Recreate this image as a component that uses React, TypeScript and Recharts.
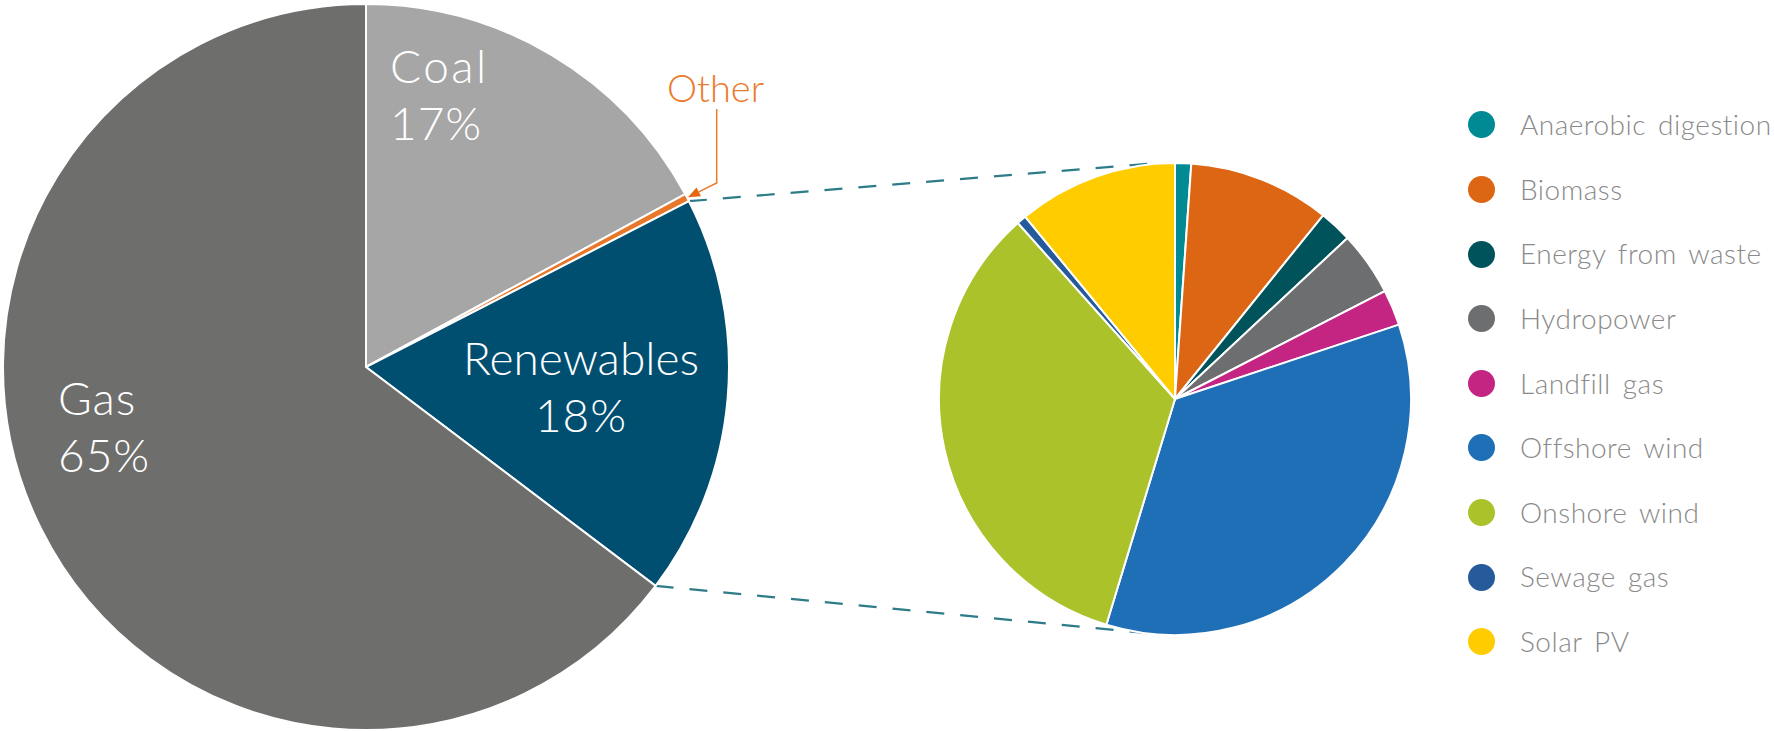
import React from 'react';
import { PieChart, Pie, Cell, Legend, Customized } from 'recharts';

// ---- Data ----
const mixNames = ['Coal', 'Other', 'Renewables', 'Gas'];
const mixValues = [17.1, 0.35, 17.85, 64.7];
const mixLabels = ['17%', '', '18%', '65%'];
const mixColors = ['#a6a6a6', '#e8772a', '#004f71', '#6e6e6c'];

const renewNames = [
  'Anaerobic digestion',
  'Biomass',
  'Energy from waste',
  'Hydropower',
  'Landfill gas',
  'Offshore wind',
  'Onshore wind',
  'Sewage gas',
  'Solar PV',
];
const renewValues = [1.1, 9.7, 2.25, 4.4, 2.45, 34.8, 33.7, 0.65, 10.95];
const renewColors = [
  '#008b94',
  '#dd6614',
  '#00535a',
  '#6d6e70',
  '#c42482',
  '#1f6fb7',
  '#abc22b',
  '#255b9b',
  '#ffcc00',
];

const mixData = mixNames.map((name, i) => ({ name, value: mixValues[i] }));
const renewData = renewNames.map((name, i) => ({ name, value: renewValues[i] }));

// ---- Layout ----
const W = 1774;
const H = 731;
const BIG = { cx: 366, cy: 367, r: 363 };
const SMALL = { cx: 1175, cy: 399, r: 236 };
const FONT = "Lato, 'Open Sans', 'DejaVu Sans', sans-serif";
const ORANGE = '#ec7a2c';
const DASH = '#2d7c88';

// label placement (offsets from the big pie centre), index-aligned with mixNames
const labelPlacement: ({ dx: number; dy: number; anchor: 'start' | 'middle'; ls: number } | null)[] = [
  { dx: 24, dy: -284, anchor: 'start', ls: 2.5 },
  null,
  { dx: 215, dy: 8, anchor: 'middle', ls: 0 },
  { dx: -308, dy: 48, anchor: 'start', ls: 1 },
];

const polar = (cx: number, cy: number, r: number, deg: number) => ({
  x: cx + r * Math.cos((deg * Math.PI) / 180),
  y: cy - r * Math.sin((deg * Math.PI) / 180),
});

const renderMixLabel = (props: any) => {
  const i = props.index;
  const p = labelPlacement[i];
  if (!p) return null;
  const x = BIG.cx + p.dx;
  const y = BIG.cy + p.dy;
  const style = { fontFamily: FONT, fontWeight: 300, fill: '#ffffff', fontSize: 46 } as const;
  return (
    <g key={`lbl-${i}`}>
      <text x={x} y={y} textAnchor={p.anchor} letterSpacing={p.ls} {...style}>{mixNames[i]}</text>
      <text x={x} y={y + 57} textAnchor={p.anchor} letterSpacing={1} {...style}>{mixLabels[i]}</text>
    </g>
  );
};

const Overlay = () => {
  const total = mixValues.reduce((a, b) => a + b, 0);
  const idx = mixNames.indexOf('Renewables');
  const before = mixValues.slice(0, idx).reduce((a, b) => a + b, 0);
  const a0 = 90 - (360 * before) / total;
  const a1 = 90 - (360 * (before + mixValues[idx])) / total;
  const p0 = polar(BIG.cx, BIG.cy, BIG.r, a0);
  const p1 = polar(BIG.cx, BIG.cy, BIG.r, a1);
  const q0 = { x: SMALL.cx - 17, y: SMALL.cy - SMALL.r };
  const q1 = { x: SMALL.cx - 18, y: SMALL.cy + SMALL.r - 1 };

  // Other arrow
  const otherIdx = mixNames.indexOf('Other');
  const otherMid =
    90 - (360 * (mixValues.slice(0, otherIdx).reduce((a, b) => a + b, 0) + mixValues[otherIdx] / 2)) / total;
  const tip = polar(BIG.cx, BIG.cy, BIG.r + 1, otherMid);
  const lx = 716.7;
  const knee = { x: lx, y: 183 };
  const dx = tip.x - knee.x;
  const dy = tip.y - knee.y;
  const len = Math.hypot(dx, dy);
  const ux = dx / len;
  const uy = dy / len;
  const base = { x: tip.x - 12 * ux, y: tip.y - 12 * uy };
  const px = -uy * 5;
  const py = ux * 5;

  return (
    <g>
      <line x1={p0.x} y1={p0.y} x2={q0.x} y2={q0.y} stroke={DASH} strokeWidth={2.2} strokeDasharray="18 16" />
      <line x1={p1.x} y1={p1.y} x2={q1.x} y2={q1.y} stroke={DASH} strokeWidth={2.2} strokeDasharray="18 16" />
      <text x={667} y={102} fontFamily={FONT} fontWeight={300} fontSize={38} fill={ORANGE}>
        {mixNames[otherIdx]}
      </text>
      <polyline
        points={`${lx},109 ${knee.x},${knee.y} ${base.x},${base.y}`}
        fill="none"
        stroke={ORANGE}
        strokeWidth={1.5}
      />
      <polygon
        points={`${tip.x},${tip.y} ${base.x + px},${base.y + py} ${base.x - px},${base.y - py}`}
        fill="#e8650f"
      />
    </g>
  );
};

const LegendContent = () => (
  <div style={{ fontFamily: FONT, fontWeight: 300 }}>
    {renewNames.map((n, i) => (
      <div key={n} style={{ height: 64.6, display: 'flex', alignItems: 'center' }}>
        <span
          style={{
            display: 'inline-block',
            width: 27,
            height: 27,
            borderRadius: '50%',
            background: renewColors[i],
            marginLeft: 2,
            flex: '0 0 auto',
          }}
        />
        <span
          style={{
            marginLeft: 25,
            fontSize: 28,
            color: '#8a8a8a',
            whiteSpace: 'nowrap',
            lineHeight: 1.2,
            letterSpacing: 0.5,
            wordSpacing: 4,
          }}
        >
          {n}
        </span>
      </div>
    ))}
  </div>
);

export default function App() {
  return (
    <div style={{ position: 'absolute', left: 0, top: 0, width: W, height: H, background: '#fff', overflow: 'hidden' }}>
      <PieChart width={W} height={H} margin={{ top: 0, right: 0, bottom: 0, left: 0 }}>
        <Pie
          data={mixData}
          dataKey="value"
          nameKey="name"
          cx={BIG.cx}
          cy={BIG.cy}
          outerRadius={BIG.r}
          startAngle={90}
          endAngle={-270}
          stroke="#ffffff"
          strokeWidth={2}
          isAnimationActive={false}
          legendType="none"
          label={renderMixLabel}
          labelLine={false}
        >
          {mixData.map((d, i) => (
            <Cell key={d.name} fill={mixColors[i]} />
          ))}
        </Pie>
        <Pie
          data={renewData}
          dataKey="value"
          nameKey="name"
          cx={SMALL.cx}
          cy={SMALL.cy}
          outerRadius={SMALL.r}
          startAngle={90}
          endAngle={-270}
          stroke="#ffffff"
          strokeWidth={2}
          isAnimationActive={false}
        >
          {renewData.map((d, i) => (
            <Cell key={d.name} fill={renewColors[i]} />
          ))}
        </Pie>
        <Customized component={Overlay} />
        <Legend
          content={LegendContent}
          wrapperStyle={{ position: 'absolute', left: 1466, top: 92.7, width: 308, height: 590, bottom: 'auto', right: 'auto' }}
        />
      </PieChart>
    </div>
  );
}
